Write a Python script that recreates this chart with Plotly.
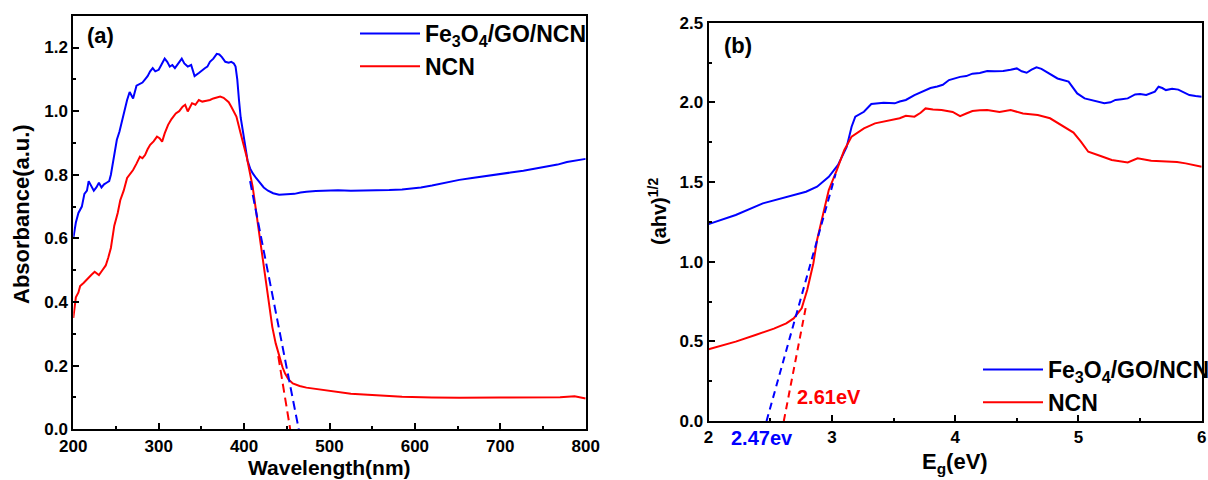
import plotly.graph_objects as go

# ---- (a) UV-vis absorbance spectra ----
wl_fe = [200, 203, 206, 210, 213, 216, 218, 221, 224, 227, 230, 233, 236, 239, 242, 244, 248,
         251, 254, 257, 260, 263, 266, 270, 274, 277, 281, 284, 287, 290, 293, 296, 300, 303,
         307, 310, 313, 316, 319, 323, 327, 330, 334, 338, 342, 347, 351, 354, 357, 360, 364,
         368, 371, 374, 378, 382, 385, 388, 390, 392, 394, 396, 399, 401, 404, 407, 410, 414,
         419, 423, 428, 434, 441, 450, 459, 466, 473, 484, 495, 510, 525, 540, 555, 570, 585,
         596, 607, 620, 635, 652, 667, 682, 697, 712, 727, 742, 755, 767, 778, 790, 800]
abs_fe = [0.60, 0.65, 0.68, 0.70, 0.74, 0.75, 0.78, 0.765, 0.75, 0.76, 0.775, 0.76, 0.77,
          0.775, 0.78, 0.80, 0.86, 0.91, 0.935, 0.97, 1.00, 1.035, 1.06, 1.04, 1.08, 1.085,
          1.09, 1.10, 1.11, 1.125, 1.135, 1.125, 1.13, 1.145, 1.165, 1.155, 1.14, 1.145, 1.135,
          1.15, 1.165, 1.15, 1.14, 1.145, 1.11, 1.12, 1.13, 1.135, 1.14, 1.155, 1.165, 1.18,
          1.178, 1.17, 1.155, 1.152, 1.155, 1.15, 1.14, 1.10, 1.035, 0.98, 0.93, 0.89, 0.845,
          0.82, 0.805, 0.79, 0.773, 0.76, 0.75, 0.742, 0.737, 0.738, 0.74, 0.744, 0.747, 0.749,
          0.75, 0.751, 0.75, 0.75, 0.751, 0.752, 0.754, 0.757, 0.76, 0.766, 0.775, 0.784,
          0.79, 0.795, 0.80, 0.807, 0.813, 0.82, 0.826, 0.832, 0.84, 0.845, 0.85]

wl_ncn = [200, 203, 206, 208, 212, 217, 221, 225, 228, 230, 234, 238, 241, 244, 248, 252, 255,
          259, 263, 266, 270, 274, 278, 281, 284, 287, 290, 294, 298, 301, 304, 307, 311, 315,
          320, 324, 328, 331, 334, 339, 343, 347, 351, 356, 360, 364, 368, 372, 376, 379, 382,
          385, 388, 391, 396, 403, 410, 415, 421, 428, 433, 437, 441, 445, 448, 452, 457, 465,
          473, 484, 495, 510, 525, 540, 560, 585, 620, 652, 700, 742, 770, 787, 793, 800]
abs_ncn = [0.35, 0.415, 0.43, 0.45, 0.46, 0.475, 0.485, 0.495, 0.49, 0.485, 0.50, 0.515, 0.54,
           0.57, 0.64, 0.68, 0.72, 0.75, 0.79, 0.80, 0.815, 0.835, 0.857, 0.852, 0.862, 0.88,
           0.894, 0.905, 0.92, 0.915, 0.904, 0.93, 0.957, 0.975, 0.993, 1.00, 1.014, 1.02,
           0.999, 1.025, 1.02, 1.035, 1.03, 1.033, 1.035, 1.04, 1.043, 1.046, 1.042, 1.035,
           1.028, 1.014, 1.00, 0.983, 0.93, 0.857, 0.763, 0.668, 0.563, 0.427, 0.322, 0.27,
           0.228, 0.195, 0.175, 0.157, 0.144, 0.136, 0.131, 0.127, 0.123, 0.117, 0.112, 0.109,
           0.106, 0.102, 0.10, 0.099, 0.10, 0.10, 0.101, 0.104, 0.10, 0.097]

# absorption-edge tangents (wavelength, absorbance)
tan_fe_wl = [407, 464]
tan_fe_abs = [0.78, 0.0]
tan_ncn_wl = [440, 454]
tan_ncn_abs = [0.23, 0.0]

# ---- (b) Tauc plots ----
eg_fe = [2.0, 2.22, 2.44, 2.63, 2.79, 2.88, 2.975, 3.05, 3.12, 3.16, 3.19, 3.26, 3.32, 3.42,
         3.51, 3.55, 3.60, 3.67, 3.71, 3.76, 3.80, 3.855, 3.90, 3.95, 4.00, 4.04, 4.09, 4.14,
         4.20, 4.26, 4.32, 4.39, 4.45, 4.5, 4.54, 4.58, 4.62, 4.66, 4.70, 4.74, 4.83, 4.92,
         4.99, 5.05, 5.14, 5.21, 5.26, 5.30, 5.35, 5.40, 5.46, 5.50, 5.55, 5.62, 5.65, 5.68,
         5.71, 5.76, 5.81, 5.86, 5.90, 5.95, 6.0]
tauc_fe = [1.236, 1.293, 1.366, 1.408, 1.439, 1.471, 1.533, 1.607, 1.72, 1.847, 1.91, 1.941,
           1.99, 1.998, 1.994, 2.005, 2.015, 2.046, 2.06, 2.08, 2.09, 2.10, 2.11, 2.14, 2.15,
           2.16, 2.165, 2.18, 2.185, 2.197, 2.195, 2.197, 2.205, 2.213, 2.195, 2.186, 2.205,
           2.22, 2.21, 2.19, 2.15, 2.13, 2.056, 2.025, 2.01, 1.994, 2.0, 2.015, 2.02, 2.025,
           2.05, 2.052, 2.046, 2.067, 2.098, 2.09, 2.077, 2.085, 2.08, 2.06, 2.046, 2.04, 2.035]

eg_ncn = [2.0, 2.22, 2.38, 2.53, 2.63, 2.69, 2.755, 2.80, 2.85, 2.88, 2.93, 2.975, 3.04, 3.10,
          3.16, 3.26, 3.35, 3.48, 3.55, 3.60, 3.67, 3.72, 3.76, 3.82, 3.89, 3.98, 4.04, 4.09,
          4.14, 4.20, 4.26, 4.36, 4.45, 4.55, 4.67, 4.77, 4.86, 4.96, 5.02, 5.08, 5.18, 5.27,
          5.40, 5.48, 5.59, 5.66, 5.75, 5.80, 5.87, 6.0]
tauc_ncn = [0.45, 0.498, 0.54, 0.58, 0.613, 0.644, 0.707, 0.822, 0.99, 1.136, 1.303, 1.45,
            1.575, 1.70, 1.785, 1.837, 1.868, 1.889, 1.90, 1.916, 1.91, 1.935, 1.962, 1.955,
            1.952, 1.94, 1.914, 1.93, 1.946, 1.95, 1.952, 1.94, 1.952, 1.93, 1.92, 1.90, 1.858,
            1.81, 1.753, 1.69, 1.663, 1.638, 1.623, 1.649, 1.634, 1.632, 1.628, 1.625, 1.617,
            1.596]

# band-gap extrapolations: intercepts on the energy axis and upper end points
gap_fe = 2.47
gap_ncn = 2.61
tan2_fe_eg = [gap_fe, 3.03]
tan2_fe_val = [0.0, 1.55]
tan2_ncn_eg = [gap_ncn, 2.79]
tan2_ncn_val = [0.0, 0.72]

series_names = ["Fe<sub>3</sub>O<sub>4</sub>/GO/NCN", "NCN"]
BLUE = "#0000ff"
RED = "#ff0000"
FONT = "Liberation Sans, Arial, sans-serif"
W, H = 1208, 480

fig = go.Figure()

# panel (a)
fig.add_trace(go.Scatter(x=wl_fe, y=abs_fe, mode="lines", name=series_names[0],
                         line=dict(color=BLUE, width=2), legend="legend"))
fig.add_trace(go.Scatter(x=wl_ncn, y=abs_ncn, mode="lines", name=series_names[1],
                         line=dict(color=RED, width=2), legend="legend"))
fig.add_trace(go.Scatter(x=tan_fe_wl, y=tan_fe_abs, mode="lines", showlegend=False,
                         line=dict(color=BLUE, width=2, dash="9px,5px")))
fig.add_trace(go.Scatter(x=tan_ncn_wl, y=tan_ncn_abs, mode="lines", showlegend=False,
                         line=dict(color=RED, width=2, dash="9px,5px")))

# panel (b)
fig.add_trace(go.Scatter(x=eg_fe, y=tauc_fe, mode="lines", name=series_names[0],
                         line=dict(color=BLUE, width=2), xaxis="x2", yaxis="y2", legend="legend2"))
fig.add_trace(go.Scatter(x=eg_ncn, y=tauc_ncn, mode="lines", name=series_names[1],
                         line=dict(color=RED, width=2), xaxis="x2", yaxis="y2", legend="legend2"))
fig.add_trace(go.Scatter(x=tan2_fe_eg, y=tan2_fe_val, mode="lines", showlegend=False,
                         line=dict(color=BLUE, width=2, dash="7px,5px"), xaxis="x2", yaxis="y2"))
fig.add_trace(go.Scatter(x=tan2_ncn_eg, y=tan2_ncn_val, mode="lines", showlegend=False,
                         line=dict(color=RED, width=2, dash="7px,5px"), xaxis="x2", yaxis="y2"))

tickfont = dict(family=FONT, size=17, color="black", weight="bold")
common = dict(showline=True, linecolor="black", linewidth=2, mirror=True, ticks="inside",
              ticklen=6, tickwidth=2, tickcolor="black", showgrid=False, zeroline=False,
              tickfont=tickfont, automargin=False)
minor_style = dict(ticks="inside", ticklen=3, tickwidth=2, tickcolor="black", showgrid=False)

legend_font = dict(family=FONT, size=23, color="black", weight="bold")

fig.update_layout(
    width=W, height=H,
    margin=dict(l=0, r=0, t=0, b=0, autoexpand=False),
    paper_bgcolor="white", plot_bgcolor="white",
    xaxis=dict(domain=[73.3 / W, 585.7 / W], range=[200, 800], dtick=100, anchor="y",
               minor=dict(dtick=50, **minor_style), **common),
    yaxis=dict(domain=[1 - 429.3 / H, 1 - 15.7 / H], range=[0, 1.3],
               tickvals=[0, 0.2, 0.4, 0.6, 0.8, 1.0, 1.2], tickformat=".1f", anchor="x",
               minor=dict(tickvals=[0.1, 0.3, 0.5, 0.7, 0.9, 1.1], **minor_style), **common),
    xaxis2=dict(domain=[708.6 / W, 1201.7 / W], range=[2, 6], dtick=1, anchor="y2",
                minor=dict(dtick=0.5, **minor_style), **common),
    yaxis2=dict(domain=[1 - 421 / H, 1 - 22.7 / H], range=[0, 2.5], dtick=0.5, tickformat=".1f",
                anchor="x2", minor=dict(dtick=0.25, **minor_style), **common),
    legend=dict(x=355 / W, y=1 - 12 / H, xanchor="left", yanchor="top",
                bgcolor="rgba(0,0,0,0)", font=legend_font, tracegroupgap=0, itemwidth=60),
    legend2=dict(x=978 / W, y=1 - 348 / H, xanchor="left", yanchor="top",
                 bgcolor="rgba(0,0,0,0)", font=legend_font, tracegroupgap=0, itemwidth=60),
)

ann_font = dict(family=FONT, size=22, color="black", weight="bold")
annotations = [
    dict(text="(a)", x=85 / W, y=1 - 36 / H, xref="paper", yref="paper",
         xanchor="left", yanchor="middle", showarrow=False, font=ann_font),
    dict(text="(b)", x=722 / W, y=1 - 45 / H, xref="paper", yref="paper",
         xanchor="left", yanchor="middle", showarrow=False, font=ann_font),
    dict(text="Absorbance(a.u.)", x=21 / W, y=1 - 214 / H, xref="paper", yref="paper",
         textangle=-90, xanchor="center", yanchor="middle", showarrow=False, font=ann_font),
    dict(text="Wavelength(nm)", x=329.5 / W, y=1 - 467 / H, xref="paper", yref="paper",
         xanchor="center", yanchor="middle", showarrow=False,
         font=dict(family=FONT, size=21, color="black", weight="bold")),
    dict(text="(ahv)<sup>1/2</sup>", x=657 / W, y=1 - 212 / H, xref="paper", yref="paper",
         textangle=-90, xanchor="center", yanchor="middle", showarrow=False,
         font=dict(family=FONT, size=20, color="black", weight="bold")),
    dict(text="E<sub>g</sub>(eV)", x=955 / W, y=1 - 463 / H, xref="paper", yref="paper",
         xanchor="center", yanchor="middle", showarrow=False, font=ann_font),
    dict(text=f"{gap_ncn:.2f}eV", x=2.70, y=0.15, xref="x2", yref="y2",
         xanchor="left", yanchor="middle", showarrow=False,
         font=dict(family=FONT, size=20, color=RED, weight="bold")),
    dict(text=f"{gap_fe:.2f}ev", x=2.437, y=1 - 438 / H, xref="x2", yref="paper",
         xanchor="center", yanchor="middle", showarrow=False,
         font=dict(family=FONT, size=20, color=BLUE, weight="bold")),
]
fig.update_layout(annotations=annotations)

fig.write_html("out.html")
